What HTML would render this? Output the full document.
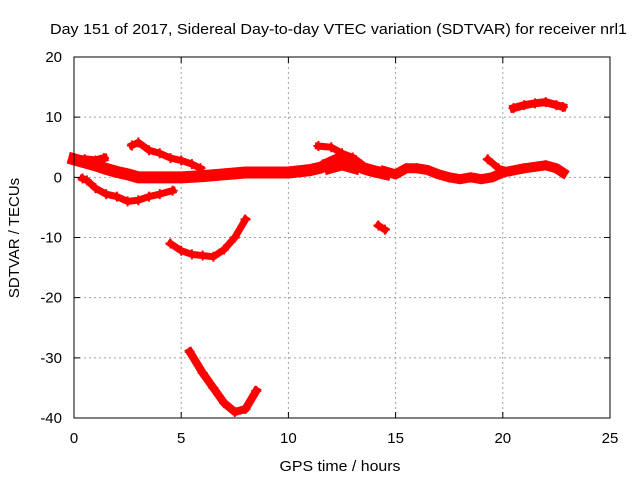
<!DOCTYPE html>
<html><head><meta charset="utf-8"><style>
body{margin:0;background:#fff;}
svg{display:block;font-family:"Liberation Sans",sans-serif;}
</style></head><body>
<svg id="chart" width="640" height="480" viewBox="0 0 640 480" xmlns="http://www.w3.org/2000/svg">
<rect width="640" height="480" fill="#fff"/>
<text x="50" y="34" font-size="15" textLength="577" lengthAdjust="spacingAndGlyphs" fill="#000">Day 151 of 2017, Sidereal Day-to-day VTEC variation (SDTVAR) for receiver nrl1</text>
<g id="grid"></g>
<g id="series"></g>
<rect x="74" y="57" width="536" height="361" fill="none" stroke="#000" stroke-width="1"/>
<g id="ticks"></g>
<text x="340" y="471" font-size="15" text-anchor="middle" textLength="121" lengthAdjust="spacingAndGlyphs">GPS time / hours</text>
<text transform="translate(19,238) rotate(-90)" font-size="15" text-anchor="middle">SDTVAR / TECUs</text>
</svg>
<script>
const xTicks=[0,5,10,15,20,25];
const yTicks=[20,10,0,-10,-20,-30,-40];
const track1=[[0,3],[0.5,2.5],[1,2],[1.5,1.4],[2,0.9],[2.5,0.5],[3,0],[4,0],[5,0],[6,0.2],[7,0.5],[8,0.8],[9,0.8],[10,0.8],[11,1.2],[11.5,1.6],[12,2.5],[12.5,3.3],[13,2.8],[13.5,1.5],[14,1],[14.5,0.6]];
const track1b=[[0,3],[0.5,3],[1,2.8],[1.4,3.2]];
const track2=[[2.7,5.3],[3,5.8],[3.5,4.5],[4,4],[4.5,3.2],[5,2.8],[5.5,2.2],[5.9,1.5]];
const track3=[[0.4,-0.2],[0.6,-0.5],[1,-1.8],[1.5,-2.8],[2,-3.2],[2.5,-4],[3,-3.8],[3.5,-3.2],[4,-2.8],[4.6,-2.2]];
const track4=[[4.5,-11],[5,-12.2],[5.5,-12.8],[6,-13],[6.5,-13.2],[7,-12],[7.5,-10],[8,-7]];
const track5=[[5.4,-29],[6,-32.5],[6.5,-35],[7,-37.5],[7.5,-39],[8,-38.5],[8.5,-35.5]];
const track6=[[11.4,5.2],[12,5],[12.5,4],[13,3.3]];
const track7=[[14.2,-8],[14.5,-8.7]];
const track8=[[14.5,1],[15,0.5],[15.5,1.5],[16,1.5],[16.5,1.2],[17,0.5],[17.5,0],[18,-0.3],[18.5,0],[19,-0.3],[19.5,0],[20,0.8],[21,1.5],[22,2],[22.5,1.5],[22.8,0.8]];
const track9=[[19.3,3],[19.8,1.5],[20.3,1]];
const track10=[[20.5,11.5],[21,12],[21.5,12.3],[22,12.5],[22.5,12],[22.8,11.7]];
const track11=[[12,2],[12.5,2.5],[13,2]];
const tracks=[track1,track1b,track2,track3,track4,track5,track6,track7,track8,track9,track10,track11];
const widths=[12,8,7,7,7,8,7,7,10,7,8,16];

const X0=74,X1=610,Y0=418,Y1=57;
function xs(h){return X0+(h-0)/(25-0)*(X1-X0);}
function ys(v){return Y0-(v-(-40))/(20-(-40))*(Y0-Y1);}
const NS="http://www.w3.org/2000/svg";
const grid=document.getElementById('grid'),ticks=document.getElementById('ticks'),ser=document.getElementById('series');
function mk(tag,attrs,parent){const e=document.createElementNS(NS,tag);for(const k in attrs)e.setAttribute(k,attrs[k]);parent.appendChild(e);return e;}
xTicks.forEach(t=>{
  const x=xs(t);
  if(t>0&&t<25){const g=mk('line',{x1:x,x2:x,y1:Y1,y2:Y0,stroke:'#a0a0a0','stroke-dasharray':'2,3'},grid);
  
  }
  const tk=mk('path',{d:`M${x},${Y0}v-6M${x},${Y1}v6`,stroke:'#000'},ticks);
  
  
  const l=mk('text',{x:x,y:443,'font-size':15,'text-anchor':'middle'},ticks);l.textContent=t;
  
  
});
yTicks.forEach(t=>{
  const y=ys(t);
  if(t>-40&&t<20){const g=mk('line',{x1:X0,x2:X1,y1:y,y2:y,stroke:'#a0a0a0','stroke-dasharray':'2,3'},grid);
  
  }
  const tk=mk('path',{d:`M${X0},${y}h6M${X1},${y}h-6`,stroke:'#000'},ticks);
  
  
  const l=mk('text',{x:62,y:y+5,'font-size':15,'text-anchor':'end'},ticks);l.textContent=t;
  
  
});
tracks.forEach((tr,i)=>{
  const p=mk('polyline',{points:tr.map(d=>xs(d[0])+','+ys(d[1])).join(' '),fill:'none',stroke:'#ff0000','stroke-width':widths[i],'stroke-linejoin':'round','stroke-linecap':'square'},ser);
  
  
  tr.forEach(d=>{
    const m=mk('path',{d:`M${xs(d[0])-5},${ys(d[1])}h10M${xs(d[0])},${ys(d[1])-5}v10`,stroke:'#ff0000','stroke-width':2},ser);
    
    
  });
});
</script>
</body></html>
